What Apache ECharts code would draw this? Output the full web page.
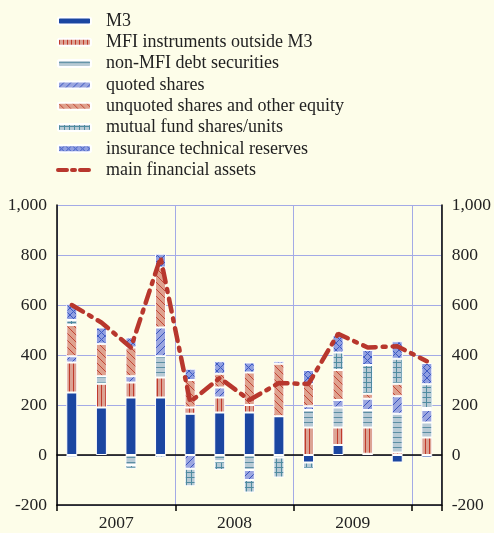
<!DOCTYPE html>
<html>
<head>
<meta charset="utf-8">
<script src="https://cdn.jsdelivr.net/npm/echarts@6/dist/echarts.min.js"></script>
<style>
  html, body { margin: 0; padding: 0; background: #fdfde9; }
  #chart { width: 494px; height: 533px; }
</style>
</head>
<body>
<div id="chart"></div>
<script>
// quarters 2007Q1 .. 2010Q1
var quarters = ['2007Q1', '2007Q2', '2007Q3', '2007Q4', '2008Q1', '2008Q2', '2008Q3', '2008Q4',
                '2009Q1', '2009Q2', '2009Q3', '2009Q4', '2010Q1'];
var yearLabels = { 2: '2007', 6: '2008', 10: '2009' };

var m3        = [250, 190, 230, 230, 165, 170, 170, 155, -30, 40, 5, -30, -10];
var mfiInstr  = [120, 95, 60, 80, 25, 60, 30, 0, 110, 70, 105, 10, 70];
var nonMfiDebt = [-10, 30, -40, 85, 0, -25, -60, -10, 70, 80, 70, 155, 60];
var quoted    = [25, 0, 25, 115, -55, 40, -40, 0, 15, 30, 45, 70, 50];
var unquoted  = [125, 130, 115, 240, 110, 55, 130, 210, 90, 120, 20, 50, 8];
var mutualFund = [20, 0, -15, -10, -70, -35, -50, -80, -25, 70, 115, 100, 95];
var insurance = [65, 65, 40, 55, 45, 50, 40, 10, 55, 70, 60, 70, 85];
var mainAssets = [600, 530, 430, 790, 212, 308, 220, 288, 284, 485, 430, 435, 375];

var serifFont = 'Liberation Serif';
var gridColor = '#a3aae6';

// small canvas tiles used as hatch fills
function pattern(size, bg, fg, draw) {
  var c = document.createElement('canvas');
  c.width = size; c.height = size;
  var ctx = c.getContext('2d');
  ctx.fillStyle = bg;
  ctx.fillRect(0, 0, size, size);
  ctx.strokeStyle = fg;
  ctx.lineWidth = 1;
  ctx.beginPath();
  draw(ctx, size);
  ctx.stroke();
  return { image: c, repeat: 'repeat' };
}
function vLines(ctx, s) { ctx.moveTo(1.5, 0); ctx.lineTo(1.5, s); }
function hLines(ctx, s) { ctx.moveTo(0, 2.5); ctx.lineTo(s, 2.5); }
function gridLines(ctx, s) { vLines(ctx, s); hLines(ctx, s); }
function slash(ctx, s) {
  ctx.moveTo(0, s); ctx.lineTo(s, 0);
  ctx.moveTo(-1, 1); ctx.lineTo(1, -1);
  ctx.moveTo(s - 1, s + 1); ctx.lineTo(s + 1, s - 1);
}
function backslash(ctx, s) {
  ctx.moveTo(0, 0); ctx.lineTo(s, s);
  ctx.moveTo(-1, s - 1); ctx.lineTo(1, s + 1);
  ctx.moveTo(s - 1, -1); ctx.lineTo(s + 1, 1);
}
function cross(ctx, s) { slash(ctx, s); backslash(ctx, s); }

var fills = {
  m3: '#1b46a1',
  mfi: pattern(4, '#dca394', '#c03a2c', vLines),
  nonMfi: pattern(5, '#b8cad5', '#5b8ea3', hLines),
  quoted: pattern(7, '#9ba6e0', '#3a54be', slash),
  unquoted: pattern(7, '#dfa18e', '#c24535', backslash),
  mutual: pattern(5, '#b8cad5', '#4f8ba0', gridLines),
  insurance: pattern(7, '#909fe0', '#3d5ac4', cross)
};

function barSeries(name, data, fill) {
  return {
    name: name,
    type: 'bar',
    stack: 'assets',
    barWidth: 11,
    data: data,
    itemStyle: { color: fill, borderColor: '#ffffff', borderWidth: 1 }
  };
}

var chart = echarts.init(document.getElementById('chart'));

var option = {
  backgroundColor: '#fdfde9',
  animation: false,
  legend: {
    orient: 'vertical',
    left: 51,
    top: 7,
    itemWidth: 33,
    itemHeight: 7,
    itemGap: 3.3,
    textStyle: { fontFamily: serifFont, fontSize: 18, color: '#222', padding: [0, 0, 0, 10] },
    data: ['M3', 'MFI instruments outside M3', 'non-MFI debt securities', 'quoted shares',
           'unquoted shares and other equity', 'mutual fund shares/units',
           'insurance technical reserves',
           { name: 'main financial assets', itemStyle: { opacity: 0 },
             lineStyle: { width: 4, type: [9, 5, 3, 5], cap: 'round' } }]
  },
  grid: { left: 57, right: 51, top: 205, bottom: 28 },
  xAxis: [
    {
      type: 'category',
      data: quarters,
      position: 'bottom',
      axisLine: { onZero: false, lineStyle: { color: '#000', width: 1.5 } },
      axisTick: { show: true, length: 6, lineStyle: { color: '#000', width: 1.5 },
                  interval: function (i) { return i % 4 === 0; } },
      axisLabel: { show: false },
      splitLine: { show: true, lineStyle: { color: gridColor },
                   interval: function (i) { return i % 4 === 0; } }
    },
    {
      type: 'value',
      min: 0, max: 13, interval: 1,
      position: 'bottom',
      axisLine: { show: false },
      axisTick: { show: false },
      splitLine: { show: false },
      axisLabel: {
        margin: 9,
        fontFamily: serifFont, fontSize: 17.5, color: '#222',
        showMinLabel: false, showMaxLabel: false,
        formatter: function (v) { return yearLabels[v] || ''; }
      }
    },
    {
      type: 'category',
      data: quarters,
      position: 'bottom',
      axisLine: { onZero: true, onZeroAxisIndex: 0, lineStyle: { color: '#000', width: 1.5 } },
      axisTick: { show: false },
      axisLabel: { show: false },
      splitLine: { show: false }
    }
  ],
  yAxis: [
    {
      type: 'value',
      min: -200, max: 1000, interval: 200,
      position: 'left',
      axisLine: { show: true, lineStyle: { color: '#000', width: 1.5 } },
      axisTick: { show: false },
      splitLine: { show: true, lineStyle: { color: gridColor } },
      axisLabel: {
        margin: 10, fontFamily: serifFont, fontSize: 17.5, color: '#222',
        formatter: function (v) { return v.toLocaleString('en-US'); }
      }
    },
    {
      type: 'value',
      min: -200, max: 1000, interval: 200,
      position: 'right',
      axisLine: { show: true, lineStyle: { color: '#000', width: 1.5 } },
      axisTick: { show: false },
      splitLine: { show: false },
      axisLabel: {
        margin: 10, fontFamily: serifFont, fontSize: 17.5, color: '#222',
        formatter: function (v) { return v.toLocaleString('en-US'); }
      }
    }
  ],
  series: [
    barSeries('M3', m3, fills.m3),
    barSeries('MFI instruments outside M3', mfiInstr, fills.mfi),
    barSeries('non-MFI debt securities', nonMfiDebt, fills.nonMfi),
    barSeries('quoted shares', quoted, fills.quoted),
    barSeries('unquoted shares and other equity', unquoted, fills.unquoted),
    barSeries('mutual fund shares/units', mutualFund, fills.mutual),
    barSeries('insurance technical reserves', insurance, fills.insurance),
    {
      name: 'main financial assets',
      type: 'line',
      data: mainAssets,
      symbol: 'none',
      z: 5,
      itemStyle: { color: '#b8372d' },
      lineStyle: { color: '#b8372d', width: 4.5, type: [13, 7, 3, 7], cap: 'round' }
    }
  ]
};

chart.setOption(option);
</script>
</body>
</html>
